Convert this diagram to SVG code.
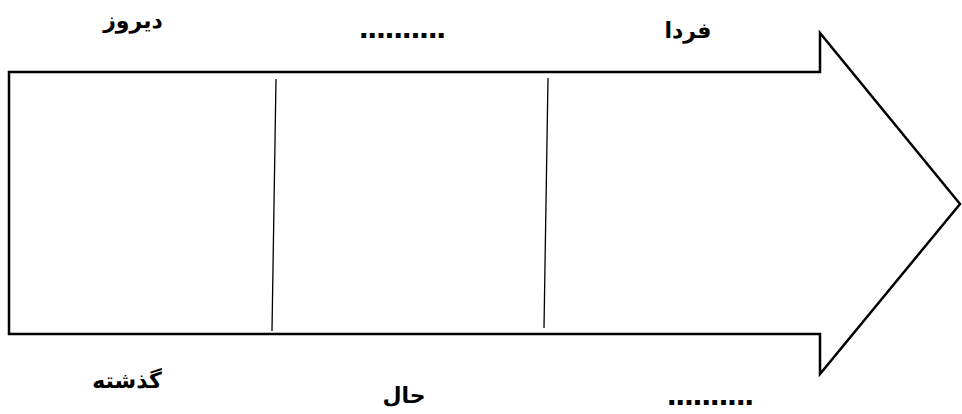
<svg xmlns="http://www.w3.org/2000/svg" width="962" height="414" viewBox="0 0 962 414">
<style>
.shape{fill:#fff;stroke:#000;stroke-width:2.5;stroke-linejoin:miter}
.div{stroke:#000;stroke-width:1.3;fill:none}
.lbl{font-family:"DejaVu Sans",sans-serif;font-weight:bold;font-size:22px;fill:#000;text-anchor:middle}
.dots{font-family:"Liberation Sans",sans-serif;font-weight:bold;font-size:34px;fill:#000}
</style>
<rect width="962" height="414" fill="#fff"/>
<g id="arrow">
<polygon class="shape" points="9,72 820,72 820,33 960,204 820,374 820,334 9,334"/>
</g>
<g id="connectors">
<line class="div" x1="276" y1="79" x2="272" y2="331"/>
<line class="div" x1="548" y1="78" x2="544" y2="328"/>
</g>
<g id="label-diruz"><text class="lbl" x="133" y="28" direction="rtl">دیروز</text></g>
<g id="label-top-dots"><text class="dots" x="359" y="38" textLength="87" lengthAdjust="spacing">..........</text></g>
<g id="label-farda"><text class="lbl" x="688" y="38" direction="rtl">فردا</text></g>
<g id="label-gozashte"><text class="lbl" x="127" y="388" direction="rtl">گذشته</text></g>
<g id="label-hal"><text class="lbl" x="404" y="403" direction="rtl">حال</text></g>
<g id="label-bottom-dots"><text class="dots" x="667" y="405" textLength="87" lengthAdjust="spacing">..........</text></g>
</svg>
